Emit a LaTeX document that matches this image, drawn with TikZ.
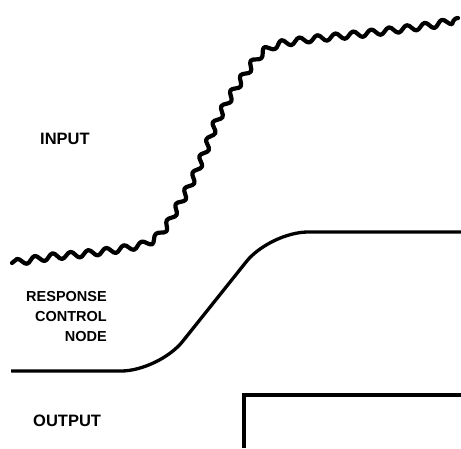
\documentclass[tikz,border=0pt]{standalone}
\usepackage{fontspec}
\setmainfont{Liberation Sans}
\usetikzlibrary{decorations.pathmorphing}
\tikzset{
  lbl/.style={font=\bfseries\fontsize{16.5}{18}\selectfont, inner sep=0pt},
  lblsmall/.style={font=\bfseries\fontsize{14.5}{20}\selectfont, inner sep=0pt, align=right},
  wave/.style={line width=4.2pt, line cap=round, line join=round,
    decorate, decoration={snake, segment length=18pt, amplitude=3.2pt}},
  trace/.style={line width=3.3pt}
}
\begin{document}
\begin{tikzpicture}[x=1pt,y=-1pt]
\useasboundingbox (0,0) rectangle (461,448);
\node[lbl, anchor=west] (in) at (40,139) {INPUT};
\node[lblsmall, anchor=north east] (rcn) at (107,291.5) {RESPONSE\\CONTROL\\NODE};
\node[lbl, anchor=west] (out) at (33,421) {OUTPUT};
% input signal
\draw[wave] (12,263) -- (30,260) -- (50,257) -- (75,255) -- (100,252) -- (120,249)
 -- (135,246) -- (145,242) -- (152,237) -- (158,230) -- (164,222) -- (170,210)
 -- (176,200) -- (182,189) -- (188,177) -- (193,165) -- (198,153) -- (202,143)
 -- (206,132) -- (210,122) -- (215,112) -- (220,103) -- (226,93) -- (232,84)
 -- (238,75) -- (245,65) -- (252,57) -- (260,50) -- (268,46) -- (280,42)
 -- (300,39) -- (330,36) -- (367,32) -- (400,28) -- (430,24) -- (458,18);
% response control node
\draw[trace, rounded corners=38pt] (11,371) -- (159,371) -- (270,232) -- (461,232);
% output step
\draw[line width=3.8pt] (244,448) -- (244,395) -- (461,395);
\end{tikzpicture}
\end{document}
